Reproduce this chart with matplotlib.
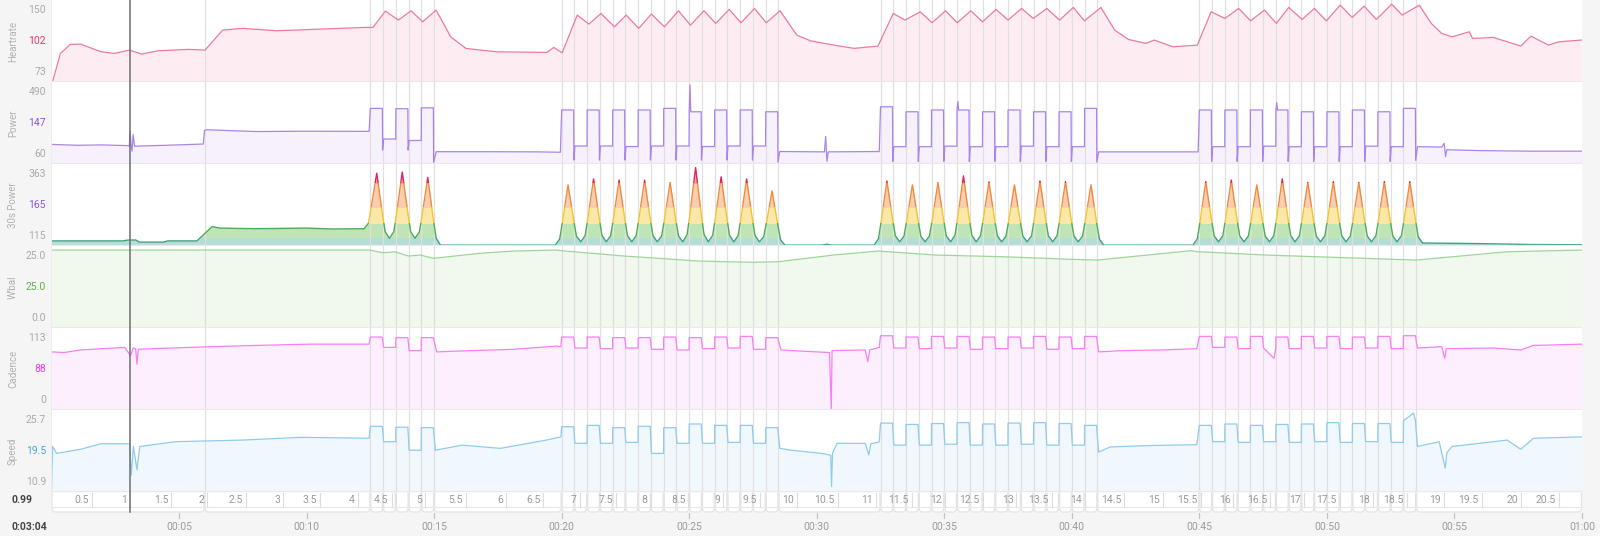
import numpy as np
import matplotlib.pyplot as plt
from matplotlib.patches import Rectangle, FancyBboxPatch
from matplotlib.lines import Line2D

plt.rcParams['font.family'] = ['Roboto', 'DejaVu Sans']

# ---------------- data (time in minutes) ----------------
hr_t = [0.04, 0.35, 0.74, 1.14, 1.94, 2.47, 3.06, 3.53, 4.19, 5.38, 6.02, 6.71, 7.5, 8.82, 10.15,
        12.27, 12.6, 13.09, 13.6, 14.1, 14.55, 15.08, 15.65, 16.25, 17.44, 19.42, 19.69, 20.02,
        20.61, 21.07, 21.54, 22.07, 22.53, 23.02, 23.52, 24.03, 24.58, 25.05, 25.58, 26.04, 26.57,
        27.03, 27.56, 28.02, 28.56, 29.22, 29.75, 30.68, 31.47, 32.4, 33.0, 33.46, 34.06, 34.52,
        35.05, 35.51, 36.04, 36.5, 37.03, 37.5, 38.03, 38.49, 39.02, 39.52, 40.06, 40.49, 41.14,
        41.68, 42.22, 42.9, 43.23, 43.97, 44.92, 45.46, 46.0, 46.54, 47.01, 47.55, 48.02, 48.5,
        49.03, 49.51, 49.98, 50.52, 50.99, 51.46, 51.94, 52.54, 52.95, 53.62, 54.09, 54.5, 54.91,
        55.58, 55.71, 56.52, 57.6, 58.0, 58.68, 59.09, 59.97]
hr_v = [72.2, 103, 112.8, 113.1, 104.8, 103, 106.6, 102.3, 105.9, 107.4, 106.6, 128.3, 130.2, 127.6, 129,
        131.2, 131.2, 148.9, 139.2, 149.3, 137.3, 150, 121, 108.4, 104.8, 104.1, 109.5, 103.7,
        144.6, 134.8, 146.4, 131.9, 144.6, 130.2, 145.7, 131.9, 149.3, 133.7, 149.3, 135.6, 150.8,
        136.3, 151.8, 136.3, 149.3, 122.9, 116.7, 112, 108.5, 111, 146.4, 139.2, 148.2, 136.3,
        149.3, 136.3, 149.3, 137.3, 150.8, 139.2, 151.8, 141, 151.8, 139.2, 152.9, 138.4, 152.9,
        128.3, 118.2, 113.9, 117.5, 110.2, 112, 148.2, 141, 151.8, 138.4, 150, 135.6, 152.9,
        139.9, 151.8, 138.4, 155.4, 142.1, 154.3, 139.9, 156.5, 144.6, 155.4, 135.6, 124.7, 121,
        126.5, 119.3, 120.4, 111, 121.8, 112, 115.6, 117.5]

# start of each hard effort (minutes)
block_start = [12.5, 13.5, 14.5,
               20.0, 21.0, 22.0, 23.0, 24.0, 25.0, 26.0, 27.0, 28.0,
               32.5, 33.5, 34.5, 35.5, 36.5, 37.5, 38.5, 39.5, 40.5,
               45.0, 46.0, 47.0, 48.0, 49.0, 50.0, 51.0, 52.0, 53.0]
block_power = [352, 350, 355,
               343, 343, 343, 343, 352, 333, 343, 343, 333,
               361, 333, 343, 343, 333, 343, 333, 333, 352,
               343, 343, 343, 343, 333, 333, 343, 333, 352]
block_power_rec = [180, 172, 109,
                   141, 141, 138, 141, 141, 138, 141, 141, 110,
                   137, 137, 140, 137, 137, 140, 137, 137, 108,
                   137, 137, 140, 137, 137, 137, 140, 137, 137]
block_power_dip = [118, 118, 47,
                   62, 62, 62, 62, 62, 62, 62, 62, 50,
                   55, 55, 55, 55, 55, 55, 55, 55, 50,
                   55, 55, 55, 55, 55, 55, 55, 55, 60]
power_base_t = [0.0, 1.0, 2.0, 3.0, 3.05, 3.08, 3.12, 3.16, 3.2, 3.26, 4.5, 5.5, 5.95, 6.0, 6.1, 8.0,
                10.0, 12.45, 15.08, 17.0, 19.0, 19.95, 25.03, 25.06, 28.55, 30.3, 30.35, 30.4,
                30.45, 32.45, 35.53, 35.56, 41.05, 44.95, 48.03, 48.06, 53.55, 54.5, 54.6, 54.65,
                54.7, 56.0, 58.0, 60.0]
power_base_v = [150, 145, 147, 143, 140, 228, 150, 112, 205, 140, 145, 150, 152, 228, 232, 222,
                224, 223, 109, 109, 108, 106, 483, 333, 110, 108, 195, 55,
                108, 110, 390, 343, 108, 108, 384, 343, 137, 135, 156, 81,
                120, 115, 112, 112]

peak30 = [344, 348, 330,
          305, 325, 321, 321, 312, 363, 332, 325, 285,
          318, 305, 312, 335, 315, 305, 318, 316, 305,
          316, 321, 305, 325, 313, 316, 313, 316, 316]
trough30 = [126, 126, 103,
            114, 114, 114, 114, 114, 114, 114, 114, 103,
            114, 114, 114, 114, 114, 114, 114, 114, 103,
            114, 114, 114, 114, 114, 114, 114, 114, 110]
p30_base_t = [0.0, 2.8, 3.0, 3.3, 3.45, 4.4, 4.55, 5.7, 6.3, 6.6, 8.0, 10.0, 11.0, 12.2,
              15.3, 19.75, 28.8, 30.2, 30.4, 30.6, 32.25, 41.3, 44.75, 53.75, 56.0, 58.0, 60.0]
p30_base_v = [117, 117, 120, 120, 113, 113, 117, 117, 165, 160, 158, 160, 157, 158,
              103, 103, 103, 103, 106, 103, 103, 103, 103, 110, 108, 105, 104]
# shape of one 30s-power peak (offset in min, share of height)
peak_off = [-0.5, -0.33, -0.22, -0.12, 0.0, 0.12, 0.22, 0.33, 0.5]
peak_frac = [0, 0.1, 0.38, 0.66, 1, 0.66, 0.38, 0.1, 0]
zones30 = [100, 129, 178, 230, 311, 400]

wbal_t = [0.0, 12.47, 12.99, 13.46, 13.99, 14.46, 14.98, 16.77, 18.1, 19.8, 20.0, 22.46, 25.37,
          27.5, 28.5, 30.66, 32.4, 34.65, 37.3, 39.0, 40.0, 41.0, 44.65, 45.0, 47.6, 50.3, 53.5,
          57.07, 60.0]
wbal_v = [25.0, 25.0, 24.13, 24.45, 23.08, 23.4, 22.34, 23.94, 24.68, 25.0, 24.78, 23.08, 21.47,
          21.06, 21.25, 23.4, 24.68, 23.4, 22.85, 22.34, 22.02, 21.79, 24.78, 24.45, 23.4, 22.66, 21.79,
          24.45, 25.0]

cad_high = [113, 112, 112,
            113, 113, 112, 112, 113, 112, 113, 114, 112,
            115, 113, 114, 114, 113, 113, 114, 113, 114,
            114, 113, 114, 113, 114, 114, 113, 114, 115]
cad_rec = [97, 92, 90,
           96, 95, 96, 94, 93, 95, 96, 94, 93,
           96, 95, 96, 94, 95, 96, 94, 95, 90,
           97, 95, 96, 95, 96, 95, 96, 95, 96]
cad_base_t = [0.0, 0.5, 1.14, 2.0, 2.87, 3.1, 3.2, 3.3, 3.35, 3.4, 4.0, 6.2, 8.0, 10.15, 12.45,
              15.1, 16.5, 18.1, 19.8, 19.97, 28.6, 29.5, 30.5, 30.57, 30.6, 31.9, 32.0, 32.08,
              32.45, 41.05, 42.0, 43.5, 44.9, 47.93, 53.55, 54.5, 54.62, 54.68, 56.5, 57.6, 58.1, 60.0]
cad_base_v = [90, 89, 93, 95, 97, 84, 96, 95, 71, 94, 95, 98, 100, 102, 102,
              90, 92, 94, 99, 98, 93, 91, 89, 0, 92, 93, 75, 93,
              97, 90, 92, 93, 95, 80, 96, 98, 80, 95, 96, 93, 100, 102]

spd_high = [22.8, 22.6, 22.5,
            22.7, 23.0, 22.5, 22.8, 22.5, 23.3, 23.0, 23.0, 22.5,
            23.5, 23.2, 23.4, 23.6, 23.3, 23.5, 23.6, 23.4, 23.0,
            23.0, 23.3, 23.0, 23.2, 23.3, 23.6, 23.4, 23.4, 24.0]
spd_rec = [19.45, 17.6, 17.6,
           19.1, 19.1, 19.3, 16.9, 19.1, 19.1, 19.3, 19.1, 18.0,
           18.7, 18.7, 18.9, 18.7, 18.7, 18.9, 18.7, 18.7, 17.2,
           19.45, 19.3, 19.45, 19.3, 19.45, 19.3, 19.45, 19.3, 18.4]
spd_base_t = [0.0, 0.04, 0.2, 1.14, 1.94, 3.06, 3.13, 3.21, 3.35, 3.46, 4.85, 7.5, 9.75, 12.45,
              15.05, 16.1, 17.6, 19.4, 19.97, 28.55, 29.0, 30.2, 30.55, 30.58, 30.62, 30.8, 31.9,
              32.04, 32.12, 32.45, 41.05, 41.5, 43.0, 44.9, 53.4, 53.55, 54.4, 54.64, 54.7, 54.9,
              57.07, 57.6, 58.1, 60.0]
spd_base_v = [8.6, 18.4, 16.9, 17.8, 19.0, 19.0, 12.2, 18.4, 13.3, 18.4, 19.45, 19.8, 20.4, 20.2,
              17.6, 18.7, 18.0, 19.8, 20.5, 18.0, 17.6, 16.9, 16.5, 9.7, 17.0, 19.1, 19.1,
              16.6, 19.0, 19.4, 17.2, 18.3, 18.6, 18.8, 25.7, 18.4, 19.45, 13.7, 17.0, 18.4,
              19.8, 17.8, 20.2, 20.5]

lap_t = [6.0, 12.5, 13.0, 13.5, 14.0, 14.5, 15.0,
         20.0, 20.5, 21.0, 21.5, 22.0, 22.5, 23.0, 23.5, 24.0, 24.5, 25.0, 25.5, 26.0, 26.5,
         27.0, 27.5, 28.0, 28.5,
         32.5, 33.0, 33.5, 34.0, 34.5, 35.0, 35.5, 36.0, 36.5, 37.0, 37.5, 38.0, 38.5, 39.0,
         39.5, 40.0, 40.5, 41.0,
         45.0, 45.5, 46.0, 46.5, 47.0, 47.5, 48.0, 48.5, 49.0, 49.5, 50.0, 50.5, 51.0, 51.5,
         52.0, 52.5, 53.0, 53.5]

dist_labels = ['0.5', '1', '1.5', '2', '2.5', '3', '3.5', '4', '4.5', '5', '5.5', '6', '6.5', '7',
               '7.5', '8', '8.5', '9', '9.5', '10', '10.5', '11', '11.5', '12', '12.5', '13', '13.5',
               '14', '14.5', '15', '15.5', '16', '16.5', '17', '17.5', '18', '18.5', '19', '19.5',
               '20', '20.5']
dist_t = [1.58, 3.06, 4.7, 6.11, 7.63, 9.09, 10.52, 12.0, 13.33, 14.65, 16.25, 17.81, 19.28, 20.71,
          22.13, 23.49, 24.98, 26.34, 27.76, 29.22, 30.83, 32.33, 33.72, 35.02, 36.5, 37.83, 39.22,
          40.53, 42.06, 43.57, 45.06, 46.33, 47.78, 49.1, 50.5, 51.82, 53.14, 54.59, 56.07, 57.6, 59.1]

time_ticks = [5, 10, 15, 20, 25, 30, 35, 40, 45, 50, 55, 60]
time_labels = ['00:05', '00:10', '00:15', '00:20', '00:25', '00:30', '00:35', '00:40', '00:45',
               '00:50', '00:55', '01:00']
cursor_t = 3.07

# ---------------- build interval series ----------------
def with_blocks(base_t, base_v, high, rec, dip=None, on=0.47):
    pts = list(zip(base_t, base_v))
    n = len(block_start)
    for i, s in enumerate(block_start):
        e = s + on
        pts += [(s, high[i]), (e, high[i])]
        if dip is not None:
            pts.append((e + 0.01, dip[i]))
        if i + 1 < n and block_start[i + 1] - s < 1.05:
            pts += [(e + 0.05, rec[i]), (block_start[i + 1] - 0.005, rec[i])]
    pts.sort()
    return np.array([p[0] for p in pts]), np.array([p[1] for p in pts])


def with_peaks():
    pts = list(zip(p30_base_t, p30_base_v))
    for i, s in enumerate(block_start):
        tp = s + 0.25
        if i > 0 and s - block_start[i - 1] < 1.05:
            left = trough30[i - 1]
        else:
            left = np.interp(tp - 0.5, p30_base_t, p30_base_v)
        right = trough30[i]
        for o, f in zip(peak_off, peak_frac):
            b = left if o < 0 else right
            pts.append((tp + o, b + f * (peak30[i] - b)))
    pts.sort()
    return np.array([p[0] for p in pts]), np.array([p[1] for p in pts])


pw_t, pw_v = with_blocks(power_base_t, power_base_v, block_power, block_power_rec, block_power_dip)
cad_t, cad_v = with_blocks(cad_base_t, cad_base_v, cad_high, cad_rec)
spd_t, spd_v = with_blocks(spd_base_t, spd_base_v, spd_high, spd_rec)
p30_t, p30_v = with_peaks()

# ---------------- figure ----------------
W, H = 1600, 536
X0, X1 = 51.5, 1582.0
fig = plt.figure(figsize=(W / 100, H / 100), dpi=100, facecolor='#f5f5f5')


def tx(t):
    return X0 + t * (X1 - X0) / 60.0


# background: lap columns, distance row, time axis (pixel coordinates)
bg = fig.add_axes([0, 0, 1, 1], zorder=-5)
bg.set_xlim(0, W)
bg.set_ylim(H, 0)
bg.axis('off')
edges = [0.0] + lap_t + [60.0]
for a, b in zip(edges[:-1], edges[1:]):
    bg.add_patch(FancyBboxPatch((tx(a) + 0.6, -20), tx(b) - tx(a) - 1.2, 532,
                                boxstyle='round,pad=0,rounding_size=3',
                                facecolor='white', edgecolor='#e2e2e2', lw=0.8))
bg.plot([X0, X1], [506.5, 506.5], color='#e8e8e8', lw=0.8)
for t, lab in zip(dist_t, dist_labels):
    x = tx(t)
    bg.plot([x, x], [493, 506.5], color='#dddddd', lw=0.8)
    bg.text(x - 3, 500, lab, ha='right', va='center', fontsize=7.5, color='#9a9a9a')
for m, lab in zip(time_ticks, time_labels):
    x = tx(m)
    bg.plot([x, x], [513, 518], color='#c4c4c4', lw=0.9)
    bg.text(x, 527, lab, ha='center', va='center', fontsize=7.5, color='#9a9a9a')
bg.text(11.5, 500, '0.99', ha='left', va='center', fontsize=7.5, color='#444444', fontweight='bold')
bg.text(11.5, 527, '0:03:04', ha='left', va='center', fontsize=7.5, color='#444444',
        fontweight='bold')

panels = [
    # name, top px, bottom px, ylim, labels, mid colour, line, fill
    ('Heartrate', 0, 82, (72, 161), ('150', '102', '73'), '#e5336c', '#ec7a9c', '#fdedf2'),
    ('Power', 82, 164, (40, 500), ('490', '147', '60'), '#8b55e3', '#a984ea', '#f6f1fd'),
    ('30s Power', 164, 246, (100, 375), ('363', '165', '115'), '#8b55e3', None, None),
    ("W'bal", 246, 328, (0, 26.3), ('25.0', '25.0', '0.0'), '#5cb34a', '#9fd59a', '#f1f8ee'),
    ('Cadence', 328, 410, (0, 127), ('113', '88', '0'), '#f03cf0', '#f87ef4', '#fdeffd'),
    ('Speed', 410, 492, (8.5, 26.35), ('25.7', '19.5', '10.9'), '#48a3e2', '#8fcbee', '#f1f8fd'),
]
series = {'Heartrate': (hr_t, hr_v), 'Power': (pw_t, pw_v), 'W\'bal': (wbal_t, wbal_v),
          'Cadence': (cad_t, cad_v), 'Speed': (spd_t, spd_v)}
zone_fill = ['#b4ddd3', '#bfe4b6', '#fbe8a8', '#f8ceb1', '#f3a6ba']
zone_line = ['#3f9f86', '#4cae52', '#f2c431', '#f08b3e', '#e2255c']

for name, top, bot, ylim, labs, midc, linec, fillc in panels:
    ax = fig.add_axes([X0 / W, 1 - bot / H, (X1 - X0) / W, (bot - top) / H])
    ax.set_xlim(0, 60)
    ax.set_ylim(*ylim)
    ax.set_facecolor('white')
    ax.set_xticks([])
    ax.set_yticks([])
    for sp in ax.spines.values():
        sp.set_visible(False)
    if name == '30s Power':
        for k in range(len(zone_fill)):
            lo, hi = zones30[k], zones30[k + 1]
            f = ax.fill_between(p30_t, ylim[0], p30_v, color=zone_fill[k], lw=0, zorder=1)
            f.set_clip_path(Rectangle((0, lo), 60, hi - lo, transform=ax.transData))
            ln, = ax.plot(p30_t, p30_v, color=zone_line[k], lw=1.0, zorder=3)
            ln.set_clip_path(Rectangle((0, lo), 60, hi - lo, transform=ax.transData))
    else:
        t, v = series[name]
        ax.fill_between(t, ylim[0], v, color=fillc, lw=0, zorder=1)
        ax.plot(t, v, color=linec, lw=0.9, zorder=3)
    for lt in lap_t:
        ax.axvline(lt, color='#e0e0e0', lw=0.9, zorder=2)
    ax.axhline(ylim[0], color='#e9e9e9', lw=1.6, zorder=4)

    h = bot - top
    fig.text(13 / W, 1 - (top + h / 2) / H, name, rotation=90, ha='center', va='center',
             fontsize=7, color='#b0b0b0')
    for frac, lab, col in zip((0.125, 0.5, 0.875), labs, ('#aaaaaa', midc, '#aaaaaa')):
        fig.text(46 / W, 1 - (top + frac * h) / H, lab, ha='right', va='center',
                 fontsize=7.5, color=col)

# cursor line
xc = tx(cursor_t) / W
fig.add_artist(Line2D([xc, xc], [1, 1 - 512 / H], transform=fig.transFigure,
                      color='#6e6e6e', lw=1.1, zorder=10))

fig.savefig('out.png', dpi=100, facecolor=fig.get_facecolor())
